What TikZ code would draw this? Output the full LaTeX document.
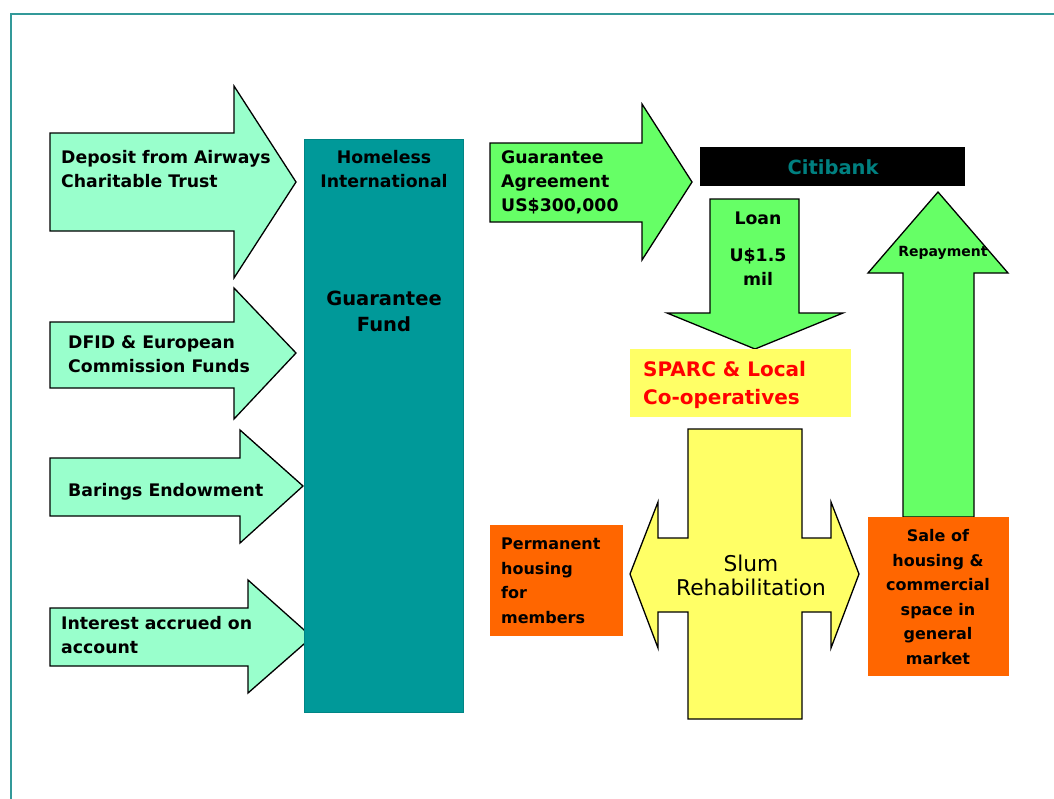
\documentclass[tikz,border=0pt]{standalone}
\usepackage{fontspec}
\setmainfont{DejaVu Sans}
\definecolor{mintc}{HTML}{99FFCC}
\definecolor{greenc}{HTML}{66FF66}
\definecolor{tealc}{HTML}{009999}
\definecolor{tealdark}{HTML}{008585}
\definecolor{framec}{HTML}{339999}
\definecolor{yellowc}{HTML}{FFFF66}
\definecolor{orangec}{HTML}{FF6600}
\definecolor{citic}{HTML}{008080}
\definecolor{redc}{HTML}{FF0000}
\begin{document}
\begin{tikzpicture}[x=1pt,y=-1pt,
  arrowshape/.style={draw=black,line width=1.3pt,line join=miter},
  mintarrow/.style={arrowshape,fill=mintc},
  greenarrow/.style={arrowshape,fill=greenc},
  lbl/.style={inner sep=0pt,font=\bfseries\fontsize{17.3}{24}\selectfont,align=left},
  biglbl/.style={inner sep=0pt,font=\bfseries\fontsize{19.5}{26}\selectfont,align=center},
  smalllbl/.style={inner sep=0pt,font=\bfseries\fontsize{16}{24.5}\selectfont},
]
\useasboundingbox (0,0) rectangle (1054,798);
% frame
\draw[framec,line width=1.5pt] (1060,14) -- (11,14) -- (11,805);

% left arrows
\draw[mintarrow] (50,133) -- (234,133) -- (234,86) -- (296,182) -- (234,278) -- (234,231) -- (50,231) -- cycle;
\draw[mintarrow] (50,322) -- (234,322) -- (234,288) -- (296,353) -- (234,419) -- (234,388) -- (50,388) -- cycle;
\draw[mintarrow] (50,458) -- (240,458) -- (240,430) -- (303,486) -- (240,543) -- (240,516) -- (50,516) -- cycle;
\draw[mintarrow] (50,608) -- (248,608) -- (248,580) -- (312,637) -- (248,693) -- (248,666) -- (50,666) -- cycle;

% guarantee fund block
\draw[fill=tealc,draw=tealdark,line width=0.8pt] (304,139) rectangle (463,712);

\node[lbl,anchor=west] (deposit) at (61,169) {Deposit from Airways\\Charitable Trust};
\node[lbl,anchor=west] (dfid) at (68,354) {DFID \& European\\Commission Funds};
\node[lbl,anchor=west] (barings) at (68,492) {Barings Endowment};
\node[lbl,anchor=west] (interest) at (61,635) {Interest accrued on\\account};

\node[lbl,align=center] (homeless) at (384,169) {Homeless\\International};
\node[biglbl] (fund) at (384,311) {Guarantee\\Fund};

% guarantee agreement arrow
\draw[greenarrow] (490,143) -- (642,143) -- (642,104) -- (692,182) -- (642,260) -- (642,222) -- (490,222) -- cycle;
\node[lbl,anchor=west] (agreement) at (501,182) {Guarantee\\Agreement\\US\$300,000};

% citibank
\fill[black] (700,147) rectangle (965,186);
\node[inner sep=0pt,font=\bfseries\fontsize{19.5}{24}\selectfont,text=citic] (citibank) at (833,167) {Citibank};

% loan arrow
\draw[greenarrow] (710,199) -- (799,199) -- (799,313) -- (843,313) -- (755,349) -- (667,313) -- (710,313) -- cycle;
\node[lbl,align=center] (loan) at (758,249) {Loan\\[13pt]U\$1.5\\mil};

% repayment arrow
\draw[greenarrow] (903,517) -- (903,273) -- (868,273) -- (938,192) -- (1008,273) -- (974,273) -- (974,517) -- cycle;
\node[inner sep=0pt,font=\bfseries\fontsize{14}{18}\selectfont] (repay) at (943,253) {Repayment};

% SPARC
\fill[yellowc] (630,349) rectangle (851,417);
\node[inner sep=0pt,font=\bfseries\fontsize{20}{28}\selectfont,text=redc,align=left,anchor=west] (sparc) at (643,385) {SPARC \& Local\\Co-operatives};

% slum rehabilitation cross
\draw[arrowshape,fill=yellowc] (630,574) -- (658,502) -- (658,538) -- (688,538) -- (688,429) -- (802,429) -- (802,538) -- (831,538) -- (831,502) -- (859,574) -- (831,648) -- (831,612) -- (802,612) -- (802,719) -- (688,719) -- (688,612) -- (658,612) -- (658,648) -- cycle;
\node[inner sep=0pt,font=\fontsize{21.7}{24}\selectfont,align=center] (slum) at (751,575) {Slum\\Rehabilitation};

% orange boxes
\fill[orangec] (490,525) rectangle (623,636);
\node[smalllbl,align=left,anchor=west] (perm) at (501,581) {Permanent\\housing\\for\\members};
\fill[orangec] (868,517) rectangle (1009,676);
\node[smalllbl,align=center] (sale) at (938,597) {Sale of\\housing \&\\commercial\\space in\\general\\market};
\end{tikzpicture}
\end{document}
